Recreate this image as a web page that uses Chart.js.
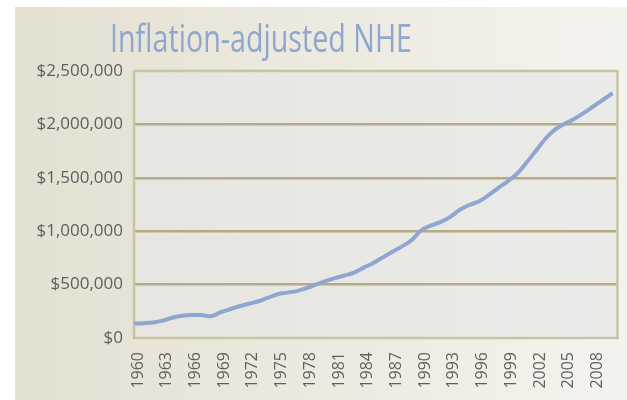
<!DOCTYPE html>
<html>
<head>
<meta charset="utf-8">
<script src="https://cdn.jsdelivr.net/npm/chart.js@4.4.1/dist/chart.umd.min.js"></script>
<style>
  html, body { margin: 0; padding: 0; background: #fff; }
  #wrap { width: 627px; height: 400px; position: relative; }
</style>
</head>
<body>
<div id="wrap"><canvas id="chart-nhe"></canvas></div>
<script>
var titleText = 'Inflation-adjusted NHE';

var years = [
  1960, 1961, 1962, 1963, 1964, 1965, 1966, 1967, 1968, 1969,
  1970, 1971, 1972, 1973, 1974, 1975, 1976, 1977, 1978, 1979,
  1980, 1981, 1982, 1983, 1984, 1985, 1986, 1987, 1988, 1989,
  1990, 1991, 1992, 1993, 1994, 1995, 1996, 1997, 1998, 1999,
  2000, 2001, 2002, 2003, 2004, 2005, 2006, 2007, 2008, 2009, 2010
];

var nhe = [
  135000, 139000, 146000, 163000, 189000, 208000, 216000, 215000, 203000, 239000,
  269000, 297000, 321000, 344000, 377000, 410000, 425000, 439000, 467000, 500000,
  533000, 561000, 585000, 613000, 659000, 703000, 755000, 807000, 858000, 915000,
  1009000, 1052000, 1085000, 1132000, 1198000, 1245000, 1278000, 1335000, 1401000, 1465000,
  1538000, 1642000, 1755000, 1868000, 1953000, 2005000, 2052000, 2108000, 2170000, 2231000, 2292000
];

var xTickYears = [1960, 1963, 1966, 1969, 1972, 1975, 1978, 1981, 1984, 1987, 1990, 1993, 1996, 1999, 2002, 2005, 2008];
var yTickValues = [0, 500000, 1000000, 1500000, 2000000, 2500000];

(function () {
  var labelColor = '#5f5f5f';
  var gridColor = '#b5ac82';
  var frameColor = '#cac4a4';
  var lineColor = '#8fa6d0';

  var backdrop = {
    id: 'backdrop',
    beforeDraw: function (chart) {
      var c = chart.ctx;
      var w = chart.width, h = chart.height;
      c.save();
      c.fillStyle = '#ffffff';
      c.fillRect(0, 0, w, h);
      var g = c.createLinearGradient(15, 0, w, 0);
      g.addColorStop(0, '#e4e0d1');
      g.addColorStop(1, '#f5f3ee');
      c.fillStyle = g;
      c.fillRect(15, 7, w - 15, h - 7);
      var a = chart.chartArea;
      var pg = c.createLinearGradient(a.left, 0, a.right, 0);
      pg.addColorStop(0, '#e6e5e1');
      pg.addColorStop(1, '#ebebe9');
      c.fillStyle = pg;
      c.fillRect(a.left, a.top, a.right - a.left, a.bottom - a.top);
      c.restore();
    },
    beforeDatasetsDraw: function (chart) {
      var c = chart.ctx;
      var a = chart.chartArea;
      c.save();
      c.strokeStyle = frameColor;
      c.lineWidth = 2.5;
      c.strokeRect(a.left, a.top, a.right - a.left, a.bottom - a.top);
      c.restore();
    },
    afterDraw: function (chart) {
      // title is drawn here so it can sit left of centre and be condensed
      var c = chart.ctx;
      c.save();
      c.font = '400 38px "Open Sans"';
      c.fillStyle = '#8fa6cf';
      c.textBaseline = 'alphabetic';
      var tw = c.measureText(titleText).width;
      c.translate(110, 51.5);
      c.scale(302 / tw, 1);
      c.fillText(titleText, 0, 0);
      c.restore();
    }
  };

  var points = years.map(function (y, i) {
    return { x: y, y: nhe[i] };
  });

  new Chart(document.getElementById('chart-nhe'), {
    type: 'line',
    data: {
      datasets: [
        {
          label: 'NHE',
          data: points,
          borderColor: lineColor,
          borderWidth: 4,
          cubicInterpolationMode: 'monotone',
          pointRadius: 0,
          fill: false,
        },
      ],
    },
    options: {
      responsive: true,
      maintainAspectRatio: false,
      animation: false,
      layout: { padding: { left: 0, right: 6, top: 71, bottom: 0 } },
      plugins: {
        legend: { display: false },
        title: { display: false },
        tooltip: { enabled: false },
      },
      scales: {
        x: {
          type: 'linear',
          min: 1960,
          max: 2010.5,
          afterBuildTicks: function (scale) {
            scale.ticks = xTickYears.map(function (v) {
              return { value: v };
            });
          },
          afterFit: function (scale) {
            scale.height = 62;
          },
          grid: { display: false, drawTicks: false },
          border: { display: false },
          ticks: {
            color: labelColor,
            font: { family: 'Open Sans', size: 16 },
            minRotation: 90,
            maxRotation: 90,
            padding: 14,
            labelOffset: 4,
            autoSkip: false,
            callback: function (v) {
              return String(v);
            },
          },
        },
        y: {
          min: 0,
          max: 2500000,
          afterBuildTicks: function (scale) {
            scale.ticks = yTickValues.map(function (v) {
              return { value: v };
            });
          },
          afterFit: function (scale) {
            scale.width = 134;
          },
          grid: {
            drawTicks: false,
            lineWidth: 2.5,
            color: function (ctx) {
              var v = ctx.tick && ctx.tick.value;
              if (v === 0 || v === 2500000) return 'rgba(0,0,0,0)';
              return gridColor;
            },
          },
          border: { display: false },
          ticks: {
            color: labelColor,
            font: { family: 'Open Sans', size: 17 },
            padding: 11,
            callback: function (v) {
              return '$' + Number(v).toLocaleString('en-US');
            },
          },
        },
      },
    },
    plugins: [backdrop],
  });
})();
</script>
</body>
</html>
